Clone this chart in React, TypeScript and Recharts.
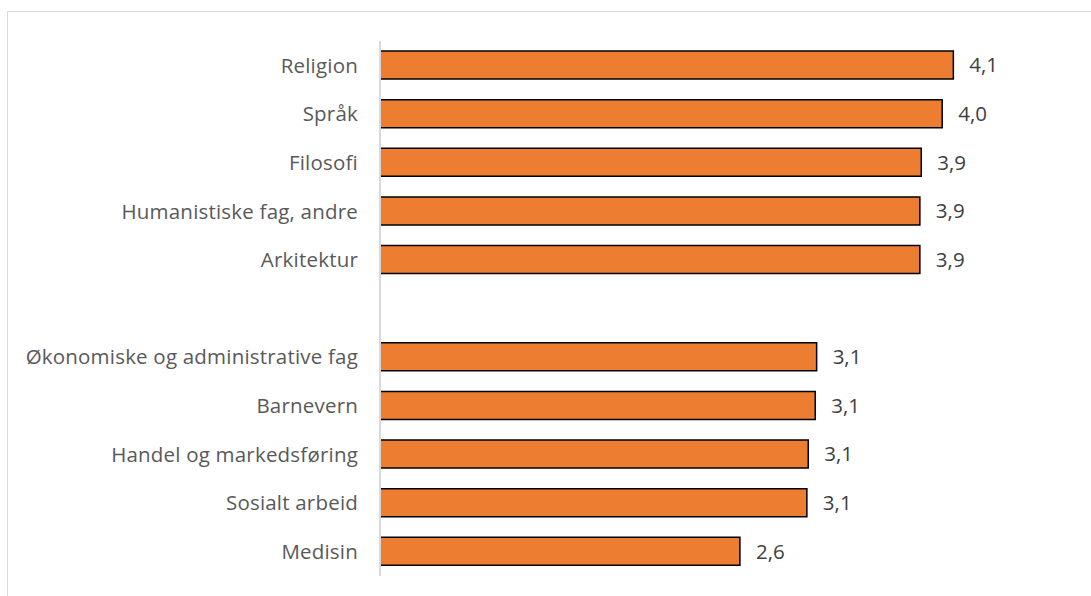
import React from 'react';
import { BarChart, Bar, XAxis, YAxis, LabelList } from 'recharts';

// categories top to bottom; "" is the blank gap between the two groups
const categories = [
  'Religion',
  'Språk',
  'Filosofi',
  'Humanistiske fag, andre',
  'Arkitektur',
  '',
  'Økonomiske og administrative fag',
  'Barnevern',
  'Handel og markedsføring',
  'Sosialt arbeid',
  'Medisin',
];

const values: (number | null)[] = [4.11, 4.03, 3.88, 3.87, 3.87, null, 3.13, 3.12, 3.07, 3.06, 2.58];

const data = categories.map((name, i) => ({ name, value: values[i] }));

const formatValue = (v: any) =>
  v === null || v === undefined ? '' : Number(v).toFixed(1).replace('.', ',');

const App: React.FC = () => {
  return (
    <div
      style={{
        position: 'absolute',
        left: 7,
        top: 11,
        width: 1100,
        height: 600,
        border: '1px solid #D9D9D9',
        background: '#fff',
        fontFamily: '"Open Sans", sans-serif',
      }}
    >
      <BarChart
        width={1083}
        height={584}
        data={data}
        layout="vertical"
        margin={{ top: 29, right: 13.5, left: 0, bottom: 20 }}
        barSize={28}
      >
        <XAxis type="number" domain={[0, 5]} hide />
        <YAxis
          dataKey="name"
          type="category"
          width={372}
          interval={0}
          tickLine={false}
          tickSize={0}
          tickMargin={22}
          axisLine={{ stroke: '#D9D9D9', strokeWidth: 2 }}
          tick={{ fill: '#595959', fontSize: 20.5, letterSpacing: 0.2 }}
        />
        <Bar
          dataKey="value"
          fill="#ED7D31"
          stroke="#000000"
          strokeWidth={1.5}
          isAnimationActive={false}
        >
          <LabelList
            dataKey="value"
            position="right"
            offset={16}
            fill="#404040"
            fontSize={20.5}
            formatter={formatValue}
          />
        </Bar>
      </BarChart>
    </div>
  );
};

export default App;
